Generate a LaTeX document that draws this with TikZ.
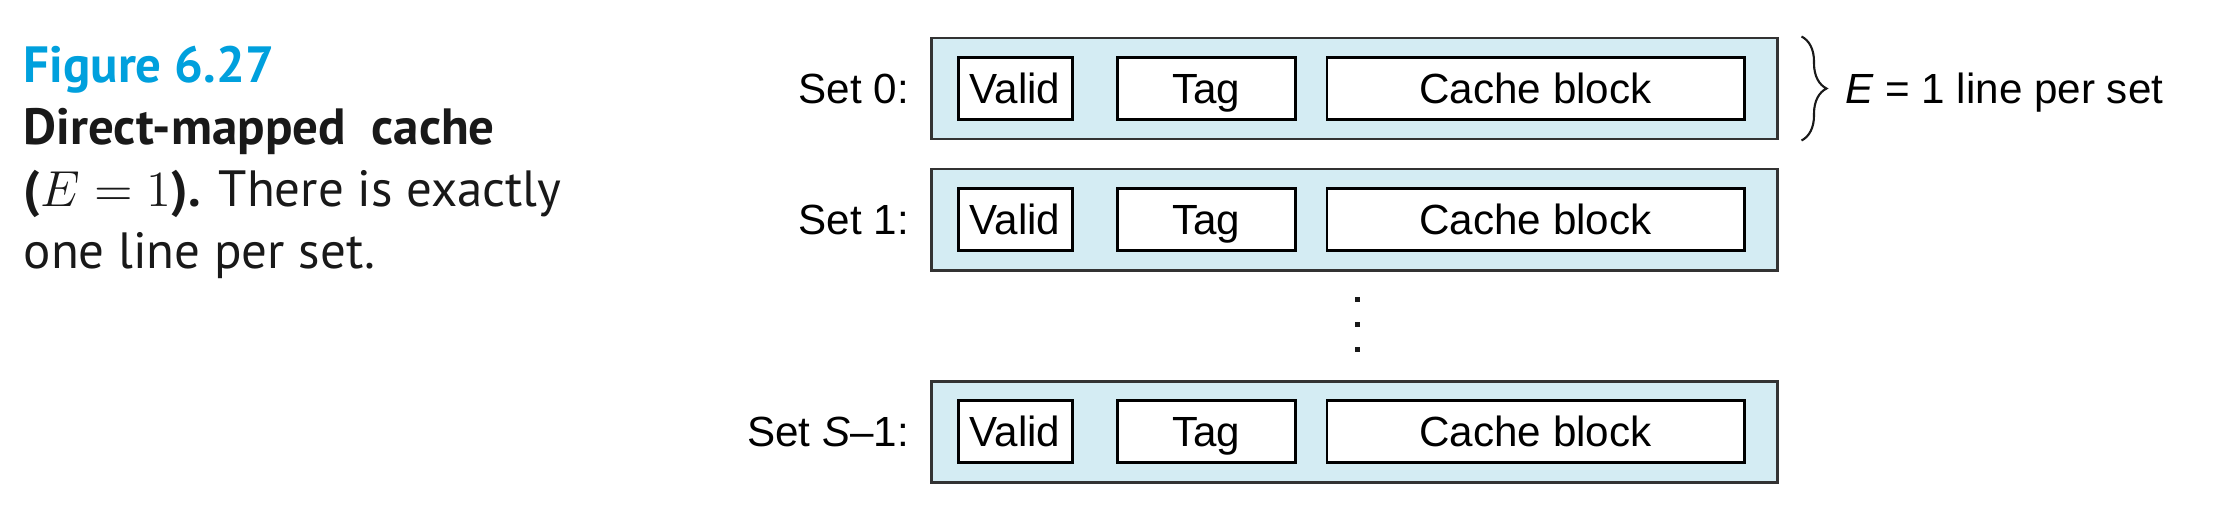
\documentclass[tikz,border=0pt]{standalone}
\usepackage{fontspec}
\setmainfont{PT Sans}
\newfontfamily\figfont{Liberation Sans}
\usepackage{tikz}
\usetikzlibrary{calc}
\usetikzlibrary{positioning}
\usetikzlibrary{decorations.pathreplacing}
\definecolor{figblue}{RGB}{0,160,221}
\definecolor{setfill}{RGB}{212,236,243}
\newcommand{\figsize}{\figfont\fontsize{12}{14}\selectfont}

\begin{document}
\begin{tikzpicture}[
        setbox/.style={draw=black!80,fill=setfill,line width=0.85pt,
                       minimum width=8.46cm,minimum height=1.01cm,inner sep=0pt},
        fieldbox/.style={draw=black,fill=white,line width=0.85pt,
                         minimum width=#1,minimum height=0.62cm,inner sep=0pt,
                         text height=0.3cm,text depth=0pt,font=\figsize},
        setlabel/.style={inner sep=0pt,text height=0.3cm,text depth=0pt,font=\figsize},
        gapdot/.style={fill=black!90},
      ]
      \useasboundingbox (0,0) rectangle (22.18,5.16);
      % Caption
      \node[anchor=north west,inner sep=0pt,align=left,text=black!90,
            font=\fontsize{14.5}{17.64}\selectfont] (caption) at (0.23,4.71)
        {\textbf{\color{figblue}Figure 6.27}\\
         \textbf{Direct-mapped\ \ cache}\\
         \textbf{(}$E=1$\textbf{).} There is exactly\\
         one line per set.};
      % One line per set
      \foreach \n/\y/\lbl in {0/4.275/{Set 0:},1/2.965/{Set 1:},2/0.845/{Set \textit{S}–1:}}{
        \node[setbox] (set\n) at (13.54,\y) {};
        \node[fieldbox=1.14cm,right=0.27cm of set\n.west] (valid\n) {Valid};
        \node[fieldbox=1.78cm,right=0.42cm of valid\n] (tag\n) {Tag};
        \node[fieldbox=4.17cm,right=0.29cm of tag\n] (block\n) {Cache block};
        \node[setlabel,left=0.2cm of set\n] (lbl\n) {\lbl};
      }
      % Vertical dots between set 1 and set S-1
      \coordinate (gap) at ($(set1.south)!0.5!(set2.north)$);
      \foreach \dy in {0.24,-0.01,-0.26}{
        \fill[gapdot] ([shift={(0.01,\dy)}]gap) rectangle ++(0.05,0.05);
      }
      % Brace
      \draw[decorate,decoration={brace,amplitude=0.25cm},line width=0.6pt,black!90]
        ([xshift=0.23cm]set0.north east) -- ([xshift=0.23cm]set0.south east);
      \node[setlabel,right=0.66cm of set0.east] (lines) {\textit{E} = 1 line per set};
    \end{tikzpicture}
\end{document}
